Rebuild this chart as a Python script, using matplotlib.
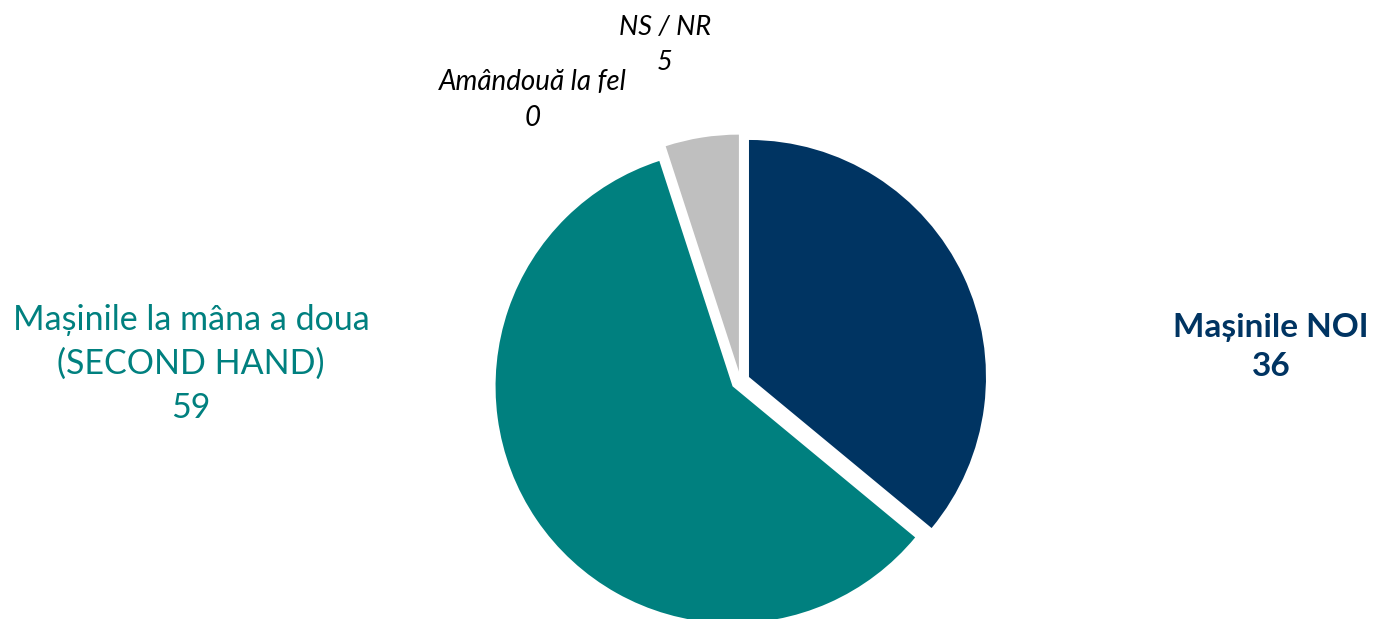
import matplotlib
matplotlib.use("Agg")
import matplotlib.pyplot as plt

categories = ["Mașinile NOI", "Mașinile la mâna a doua\n(SECOND HAND)", "Amândouă la fel", "NS / NR"]
values = [36, 59, 0, 5]
colors = ["#003462", "#00807F", "#FFFFFF", "#BFBFBF"]

W, H = 1374, 619
R = 237.0
CX, CY = 740.4, 381.0  # pixel centre (y down)

fig = plt.figure(figsize=(W / 100, H / 100), dpi=100)
ax = fig.add_axes([0, 0, 1, 1])
ax.pie(values, colors=colors, startangle=90, counterclock=False,
       explode=[0.04] * len(values), radius=1,
       wedgeprops=dict(linewidth=0))
ax.set_xlim(-CX / R, (W - CX) / R)
ax.set_ylim(-(H - CY) / R, CY / R)
ax.set_aspect("equal")
ax.axis("off")

font = ["Lato", "DejaVu Sans"]

def px(x, y):
    return x / W, 1 - y / H

# label positions (pixels) and styles
lab = [
    dict(xy=(1271, 347), color="#003462", weight="bold", style="normal", size=24),
    dict(xy=(191, 364), color="#00807F", weight="normal", style="normal", size=24.5),
    dict(xy=(533, 100), color="black", weight="normal", style="italic", size=20),
    dict(xy=(665, 45), color="black", weight="normal", style="italic", size=19.5),
]
for cat, val, st in zip(categories, values, lab):
    ax.text(*px(*st["xy"]), f"{cat}\n{val}", transform=fig.transFigure,
            ha="center", va="center", color=st["color"], fontweight=st["weight"],
            fontstyle=st["style"], fontsize=st["size"], family=font,
            linespacing=1.45)

fig.savefig("out.png", dpi=100)
